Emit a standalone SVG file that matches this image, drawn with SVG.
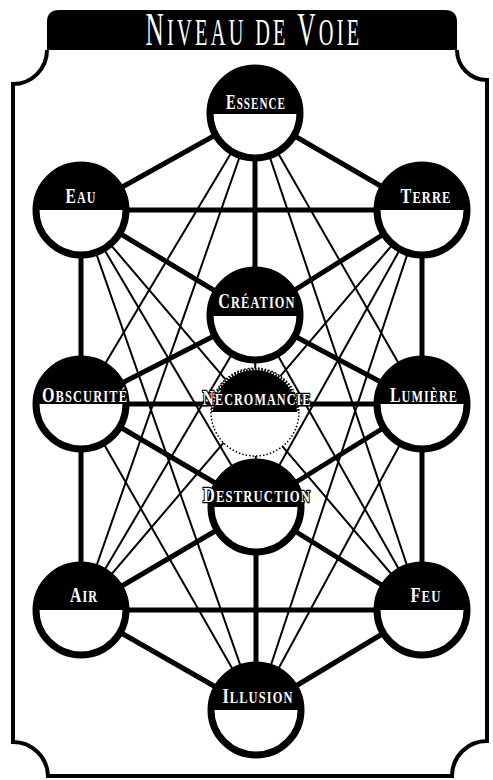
<svg xmlns="http://www.w3.org/2000/svg" width="493" height="780" viewBox="0 0 493 780">
<style>
.k{stroke:#000;stroke-width:5;fill:none;stroke-linecap:round}
.t{stroke:#000;stroke-width:2;fill:none}
.ring{fill:#fff;stroke:#000;stroke-width:7}
.lbl{font-family:"Liberation Serif","DejaVu Serif",serif;font-weight:bold;fill:#fff;stroke:#000;stroke-width:2.5;paint-order:stroke;text-anchor:middle;letter-spacing:1.5px}
.big{font-size:22px}
.sm{font-size:17px}
.ttl{font-family:"Liberation Serif","DejaVu Serif",serif;fill:#fff;text-anchor:middle;letter-spacing:6px}
</style>
<rect width="493" height="780" fill="#fff"/>
<g id="frame">
<path d="M47,50 L47,22 Q47,10 59,10 L445,10 Q457,10 457,22 L457,50 Z" fill="#000"/>
<path d="M47,50 A34,34 0 0 1 13,84 L13,742 A35,35 0 0 1 48,776 L452,776 A35,35 0 0 1 487,741 L487,80 A30,30 0 0 1 457,50" fill="none" stroke="#000" stroke-width="4"/>
<text class="ttl" transform="translate(254,45) scale(0.55,1)"><tspan font-size="46">N</tspan><tspan font-size="37">IVEAU DE </tspan><tspan font-size="46">V</tspan><tspan font-size="37">OIE</tspan></text>
</g>
<g id="connectors">
<line class="k" x1="255" y1="113" x2="81" y2="210"/>
<line class="k" x1="255" y1="113" x2="422" y2="210"/>
<line class="k" x1="255" y1="113" x2="255" y2="315"/>
<line class="k" x1="81" y1="210" x2="422" y2="210"/>
<line class="k" x1="81" y1="210" x2="255" y2="315"/>
<line class="k" x1="422" y1="210" x2="255" y2="315"/>
<line class="k" x1="81" y1="210" x2="81" y2="610"/>
<line class="k" x1="422" y1="210" x2="422" y2="610"/>
<line class="k" x1="255" y1="315" x2="81" y2="404"/>
<line class="k" x1="255" y1="315" x2="422" y2="404"/>
<line class="k" x1="81" y1="404" x2="422" y2="404"/>
<line class="k" x1="81" y1="404" x2="256" y2="507"/>
<line class="k" x1="422" y1="404" x2="256" y2="507"/>
<line class="k" x1="256" y1="507" x2="81" y2="610"/>
<line class="k" x1="256" y1="507" x2="422" y2="610"/>
<line class="k" x1="81" y1="610" x2="422" y2="610"/>
<line class="k" x1="81" y1="610" x2="256" y2="710"/>
<line class="k" x1="422" y1="610" x2="256" y2="710"/>
<line class="k" x1="256" y1="507" x2="256" y2="710"/>
<line class="t" x1="255" y1="315" x2="256" y2="507"/>
<line class="t" x1="255" y1="113" x2="81" y2="404"/>
<line class="t" x1="255" y1="113" x2="422" y2="404"/>
<line class="t" x1="255" y1="113" x2="81" y2="610"/>
<line class="t" x1="255" y1="113" x2="422" y2="610"/>
<line class="t" x1="256" y1="710" x2="81" y2="210"/>
<line class="t" x1="256" y1="710" x2="422" y2="210"/>
<line class="t" x1="256" y1="710" x2="81" y2="404"/>
<line class="t" x1="256" y1="710" x2="422" y2="404"/>
<line class="t" x1="81" y1="210" x2="256" y2="507"/>
<line class="t" x1="422" y1="210" x2="256" y2="507"/>
<line class="t" x1="81" y1="610" x2="255" y2="315"/>
<line class="t" x1="422" y1="610" x2="255" y2="315"/>
<line class="t" x1="81" y1="210" x2="422" y2="610"/>
<line class="t" x1="422" y1="210" x2="81" y2="610"/>
</g>
<g id="essence"><circle class="ring" cx="255" cy="113" r="45"/><path d="M210,114 A45,45 0 0 1 300,114 Z"/><text class="lbl" transform="translate(256,109) scale(0.655,1)"><tspan class="big">E</tspan><tspan class="sm">SSENCE</tspan></text></g>
<g id="eau"><circle class="ring" cx="81" cy="210" r="45"/><path d="M36,210 A45,45 0 0 1 126,210 Z"/><text class="lbl" transform="translate(81,203) scale(0.71,1)"><tspan class="big">E</tspan><tspan class="sm">AU</tspan></text></g>
<g id="terre"><circle class="ring" cx="422" cy="210" r="45"/><path d="M377,210 A45,45 0 0 1 467,210 Z"/><text class="lbl" transform="translate(426,203) scale(0.736,1)"><tspan class="big">T</tspan><tspan class="sm">ERRE</tspan></text></g>
<g id="creation"><circle class="ring" cx="255" cy="315" r="45"/><path d="M210,316 A45,45 0 0 1 300,316 Z"/><text class="lbl" transform="translate(257,308) scale(0.73,1)"><tspan class="big">C</tspan><tspan class="sm">RÉATION</tspan></text></g>
<g id="obscurite"><circle class="ring" cx="81" cy="404" r="45"/><path d="M36,404 A45,45 0 0 1 126,404 Z"/><text class="lbl" transform="translate(85,402) scale(0.733,1)"><tspan class="big">O</tspan><tspan class="sm">BSCURITÉ</tspan></text></g>
<g id="lumiere"><circle class="ring" cx="422" cy="404" r="45"/><path d="M377,404 A45,45 0 0 1 467,404 Z"/><text class="lbl" transform="translate(424,402) scale(0.716,1)"><tspan class="big">L</tspan><tspan class="sm">UMIÈRE</tspan></text></g>
<g id="necromancie"><circle cx="255" cy="412" r="44" fill="#fff" stroke="#000" stroke-width="1.5" stroke-dasharray="1.5,2"/><path d="M213,412 A42,42 0 0 1 297,412 Z"/><path d="M213,412 A42,42 0 0 1 297,412" fill="none" stroke="#000" stroke-width="4" stroke-dasharray="1.5,1.5"/><text class="lbl" transform="translate(257,405) scale(0.716,1)"><tspan class="big">N</tspan><tspan class="sm">ÉCROMANCIE</tspan></text></g>
<g id="destruction"><circle class="ring" cx="256" cy="507" r="45"/><path d="M211,507 A45,45 0 0 1 301,507 Z"/><text class="lbl" transform="translate(257,502) scale(0.747,1)"><tspan class="big">D</tspan><tspan class="sm">ESTRUCTION</tspan></text></g>
<g id="air"><circle class="ring" cx="81" cy="610" r="45"/><path d="M36,610 A45,45 0 0 1 126,610 Z"/><text class="lbl" transform="translate(84,602) scale(0.714,1)"><tspan class="big">A</tspan><tspan class="sm">IR</tspan></text></g>
<g id="feu"><circle class="ring" cx="422" cy="610" r="45"/><path d="M377,610 A45,45 0 0 1 467,610 Z"/><text class="lbl" transform="translate(426,602) scale(0.75,1)"><tspan class="big">F</tspan><tspan class="sm">EU</tspan></text></g>
<g id="illusion"><circle class="ring" cx="256" cy="710" r="45"/><path d="M211,710 A45,45 0 0 1 301,710 Z"/><text class="lbl" transform="translate(258,703) scale(0.733,1)"><tspan class="big">I</tspan><tspan class="sm">LLUSION</tspan></text></g>
</svg>
